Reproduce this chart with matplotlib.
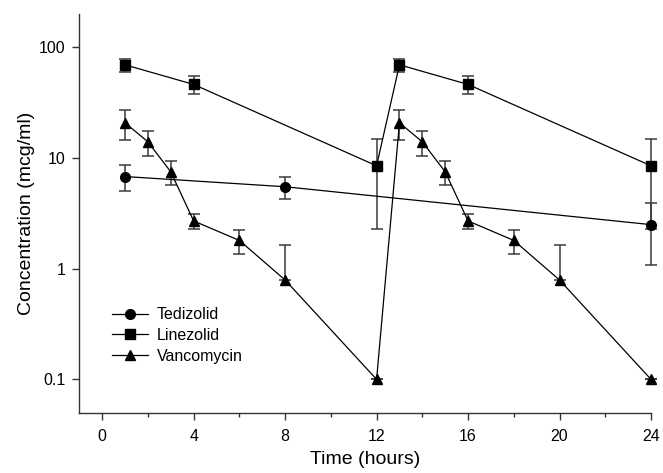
import matplotlib
matplotlib.use("Agg")
import matplotlib.pyplot as plt
from matplotlib.ticker import FixedLocator, NullLocator

plt.rcParams["font.family"] = ["Liberation Sans", "DejaVu Sans"]

# time points (hours) and mean concentrations (mcg/ml)
ted_t = [1, 8, 24]
ted_y = [6.8, 5.5, 2.5]
ted_err = [1.8, 1.2, 1.43]

lin_t = [1, 4, 12, 13, 16, 24]
lin_y = [69.5, 46.2, 8.5, 69.5, 46.2, 8.5]
lin_err = [9.5, 8.4, 6.2, 9.5, 8.4, 6.2]

van_t = [1, 2, 3, 4, 6, 8, 12, 13, 14, 15, 16, 18, 20, 24]
van_y = [20.8, 14.0, 7.5, 2.7, 1.8, 0.79, 0.1, 20.8, 14.0, 7.5, 2.7, 1.8, 0.79, 0.1]
van_err = [6.3, 3.6, 1.8, 0.44, 0.44, 0.83, 0.0, 6.3, 3.6, 1.8, 0.44, 0.44, 0.83, 0.0]


def lower_arm(vals, errs):
    # on a log axis a bar that would go below zero is only drawn upward
    return [e if v - e > 0 else 0.0 for v, e in zip(vals, errs)]


fig = plt.figure(figsize=(6.63, 4.73), dpi=100)
ax = fig.add_axes([0.1196, 0.1275, 0.9819 - 0.1196, 0.9704 - 0.1275])

ecol = "#3a3a3a"
series = [
    ("Tedizolid", ted_t, ted_y, ted_err, "o", 7),
    ("Linezolid", lin_t, lin_y, lin_err, "s", 6.5),
    ("Vancomycin", van_t, van_y, van_err, "^", 7.5),
]
for name, t, y, err, mk, ms in series:
    lo = lower_arm(y, err)
    ax.errorbar(t, y, yerr=[lo, err], fmt="none", ecolor=ecol, elinewidth=1.1,
                capsize=4.3, capthick=1.1, zorder=2, clip_on=False)
    ax.plot(t, y, color="black", lw=0.9, marker=mk, ms=ms, mfc="black",
            mec="black", label=name, zorder=3, clip_on=False)

ax.set_yscale("log")
ax.set_ylim(0.05, 200)
ax.set_xlim(-1, 24)

ax.yaxis.set_major_locator(FixedLocator([0.1, 1, 10, 100]))
ax.yaxis.set_minor_locator(NullLocator())
ax.set_yticklabels(["0.1", "1", "10", "100"])
ax.set_xticks([0, 4, 8, 12, 16, 20, 24])
ax.set_xticks([2, 6, 10, 14, 18, 22], minor=True)

for side in ("top", "right"):
    ax.spines[side].set_visible(False)
for side in ("left", "bottom"):
    ax.spines[side].set_color("#333333")
    ax.spines[side].set_linewidth(1.0)

ax.tick_params(axis="both", which="major", direction="out", length=5,
               width=1.0, color="#333333", labelsize=11.5)
ax.tick_params(axis="x", which="major", pad=7)
ax.tick_params(axis="y", which="major", pad=5)
ax.tick_params(axis="x", which="minor", direction="out", length=3,
               width=1.0, color="#333333")

ax.set_xlabel("Time (hours)", fontsize=14, labelpad=5)
ax.set_ylabel("Concentration (mcg/ml)", fontsize=14, labelpad=3)

ax.legend(loc="lower left", bbox_to_anchor=(0.046, 0.107), frameon=False,
          fontsize=11.5, handlelength=2.25, handletextpad=0.56,
          labelspacing=0.36, borderaxespad=0)

fig.savefig("out.png", dpi=100)
